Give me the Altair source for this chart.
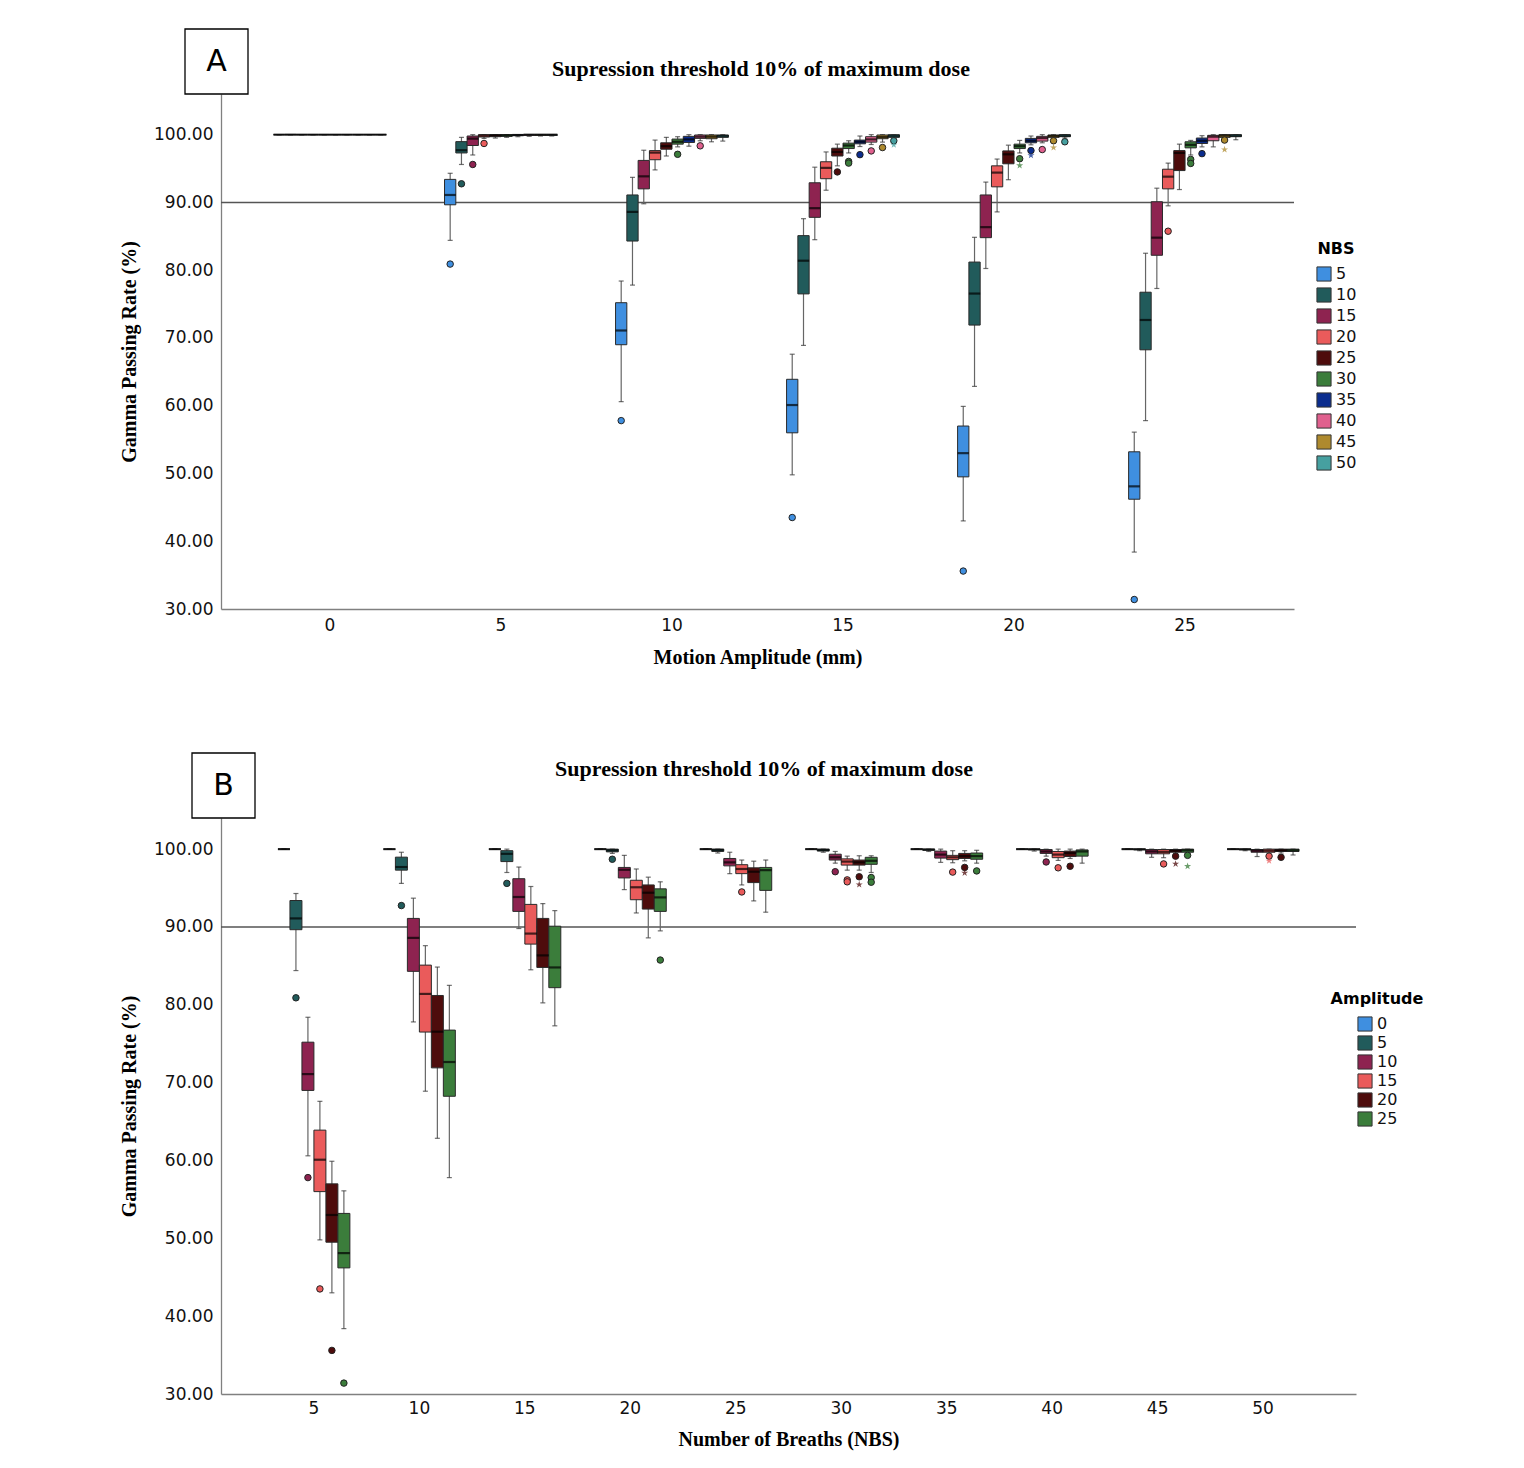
import altair as alt
import pandas as pd

amplitudes = [0, 5, 10, 15, 20, 25]
nbs_values = [5, 10, 15, 20, 25, 30, 35, 40, 45, 50]

# rows = amplitude (0..25), columns = NBS (5..50)
whisker_low = [
    [100.0, 100.0, 100.0, 100.0, 100.0, 100.0, 100.0, 100.0, 100.0, 100.0],
    [84.4, 95.6, 97.0, 99.45, 99.5, 99.6, 99.7, 99.75, 99.8, 99.8],
    [60.6, 77.8, 89.8, 94.8, 96.85, 98.2, 98.3, 99.1, 98.95, 99.05],
    [49.8, 68.9, 84.5, 91.8, 95.4, 97.3, 98.25, 98.55, 98.9, 99.3],
    [43.0, 62.85, 80.25, 88.6, 93.35, 97.3, 98.5, 98.8, 99.4, 99.5],
    [38.4, 57.8, 77.3, 89.5, 91.9, 97.0, 98.2, 98.2, 99.3, 99.25],
]
quartile_1 = [
    [100.0, 100.0, 100.0, 100.0, 100.0, 100.0, 100.0, 100.0, 100.0, 100.0],
    [89.65, 97.3, 98.4, 99.65, 99.7, 99.75, 99.85, 99.9, 99.9, 99.9],
    [69.0, 84.3, 92.0, 96.3, 97.85, 98.6, 98.85, 99.45, 99.4, 99.6],
    [56.0, 76.5, 87.8, 93.5, 96.85, 97.95, 98.65, 98.9, 99.4, 99.6],
    [49.5, 71.9, 84.8, 92.3, 95.7, 97.95, 98.8, 99.05, 99.6, 99.7],
    [46.2, 68.25, 82.2, 92.0, 94.7, 98.05, 98.7, 99.1, 99.6, 99.7],
]
medians = [
    [100.0, 100.0, 100.0, 100.0, 100.0, 100.0, 100.0, 100.0, 100.0, 100.0],
    [91.1, 97.7, 99.4, 99.85, 99.9, 99.9, 99.95, 100.0, 100.0, 100.0],
    [71.1, 88.6, 93.85, 97.35, 98.3, 98.95, 99.3, 99.7, 99.7, 99.8],
    [60.1, 81.4, 89.15, 95.1, 97.45, 98.4, 98.95, 99.3, 99.65, 99.8],
    [53.0, 76.55, 86.35, 94.4, 97.1, 98.3, 99.1, 99.5, 99.8, 99.85],
    [48.1, 72.65, 84.8, 93.8, 97.3, 98.5, 99.1, 99.7, 99.85, 99.85],
]
quartile_3 = [
    [100.0, 100.0, 100.0, 100.0, 100.0, 100.0, 100.0, 100.0, 100.0, 100.0],
    [93.4, 98.97, 99.8, 100.0, 100.0, 100.0, 100.0, 100.0, 100.0, 100.0],
    [75.2, 91.1, 96.2, 97.65, 98.8, 99.35, 99.75, 99.95, 99.95, 99.95],
    [63.9, 85.1, 92.9, 96.0, 98.0, 98.75, 99.2, 99.7, 99.95, 100.0],
    [57.0, 81.2, 91.1, 95.4, 97.6, 98.6, 99.45, 99.75, 99.95, 100.0],
    [53.2, 76.75, 90.1, 94.9, 97.65, 98.95, 99.5, 99.9, 100.0, 100.0],
]
whisker_high = [
    [100.0, 100.0, 100.0, 100.0, 100.0, 100.0, 100.0, 100.0, 100.0, 100.0],
    [94.3, 99.6, 100.0, 100.0, 100.0, 100.0, 100.0, 100.0, 100.0, 100.0],
    [78.4, 93.7, 97.7, 99.2, 99.6, 99.7, 100.0, 100.0, 100.0, 100.0],
    [67.6, 87.6, 95.2, 97.45, 98.6, 99.1, 99.8, 100.0, 100.0, 100.0],
    [59.9, 84.85, 93.0, 96.4, 98.45, 99.15, 99.8, 100.0, 100.0, 100.0],
    [56.1, 82.5, 92.1, 95.8, 98.6, 99.15, 99.85, 100.0, 100.0, 100.0],
]

# outliers: circle = mild outlier, star = extreme
outlier_amp = [5, 5, 5, 5, 10, 10, 10, 15, 15, 15, 15, 15, 15, 15, 15, 20, 20, 20, 20, 20, 20,
               25, 25, 25, 25, 25, 25, 15, 20, 20, 20, 25]
outlier_nbs = [5, 10, 15, 20, 5, 30, 40, 5, 25, 30, 30, 35, 40, 45, 50, 5, 30, 35, 40, 45, 50,
               5, 20, 30, 30, 35, 45, 50, 30, 35, 45, 45]
outlier_value = [80.9, 92.75, 95.6, 98.7, 57.8, 97.1, 98.35, 43.5, 94.5, 96.05, 95.8, 97.05, 97.6, 98.1, 99.1,
                 35.6, 96.45, 97.65, 97.8, 99.1, 98.95, 31.4, 85.75, 96.35, 95.75, 97.2, 99.2,
                 98.5, 95.45, 96.95, 98.1, 97.8]
outlier_kind = ["circle"] * 27 + ["star"] * 5

palette = ["#3f8fe0", "#215b5b", "#8e2350", "#ea5b5b", "#4e0c0c",
           "#3b7d3b", "#0b2d8e", "#e0608e", "#ae8a2e", "#46a0a0"]

title_text = "Supression threshold 10% of maximum dose"
y_title = "Gamma Passing Rate (%)"
y_ticks = [30, 40, 50, 60, 70, 80, 90, 100]

STAR = ("M0,-1L0.2245,-0.309L0.951,-0.309L0.3633,0.118L0.5878,0.809L0,0.382"
        "L-0.5878,0.809L-0.3633,0.118L-0.951,-0.309L-0.2245,-0.309Z")

rows = []
for i, a in enumerate(amplitudes):
    for j, n in enumerate(nbs_values):
        rows.append(dict(amp=a, nbs=n, lo=whisker_low[i][j], q1=quartile_1[i][j],
                         med=medians[i][j], q3=quartile_3[i][j], hi=whisker_high[i][j]))
stats = pd.DataFrame(rows)
outl = pd.DataFrame(dict(amp=outlier_amp, nbs=outlier_nbs, value=outlier_value, kind=outlier_kind))

SERIF = "Liberation Serif"
SANS = "DejaVu Sans"


def panel(xfield, xdom, xtitle, offfield, offdom, legend_title, colors,
          width, height, ytop, pin, pout, box_w, legx, legy, row_pad, letter, box_x,
          title_x, title_y, lab_pad, title_pad):
    yscale = alt.Scale(domain=[30, ytop], nice=False, zero=False)
    yaxis = alt.Axis(values=y_ticks, format=".2f", title=y_title, labelPadding=8, titlePadding=14)
    xenc = alt.X(f"{xfield}:O", scale=alt.Scale(domain=xdom, paddingInner=pin, paddingOuter=pout),
                 axis=alt.Axis(title=xtitle, labelAngle=0, labelPadding=lab_pad, titlePadding=title_pad))
    offenc = alt.XOffset(f"{offfield}:O", scale=alt.Scale(domain=offdom, paddingInner=0, paddingOuter=0))
    cscale = alt.Scale(domain=offdom, range=colors)

    base = alt.Chart(stats).encode(x=xenc, xOffset=offenc)

    ref = alt.Chart(pd.DataFrame({"ref": [90]})).mark_rule(color="#555555", strokeWidth=1.5).encode(
        y=alt.Y("ref:Q", scale=yscale, axis=yaxis))
    whisk = base.mark_rule(color="#666666", strokeWidth=1.2).encode(
        y=alt.Y("lo:Q", scale=yscale, axis=yaxis), y2="hi:Q")
    cap_lo = base.mark_tick(color="#333333", size=5, thickness=1.2).encode(y=alt.Y("lo:Q", scale=yscale))
    cap_hi = base.mark_tick(color="#333333", size=5, thickness=1.2).encode(y=alt.Y("hi:Q", scale=yscale))
    box = base.mark_bar(stroke="#2a2a2a", strokeWidth=1, opacity=1).encode(
        y=alt.Y("q1:Q", scale=yscale), y2="q3:Q",
        color=alt.Color(f"{offfield}:O", scale=cscale,
                        legend=alt.Legend(title=legend_title, orient="none", legendX=legx, legendY=legy,
                                          symbolType="square", symbolSize=200, symbolStrokeColor="#333333",
                                          symbolStrokeWidth=1, titleAnchor="middle", rowPadding=row_pad)))
    med = base.mark_tick(color="black", size=box_w, thickness=2.2).encode(y=alt.Y("med:Q", scale=yscale))

    ob = alt.Chart(outl).encode(x=xenc, xOffset=offenc, y=alt.Y("value:Q", scale=yscale),
                                fill=alt.Fill(f"{offfield}:O", scale=cscale, legend=None))
    circ = ob.transform_filter(alt.datum.kind == "circle").mark_point(
        shape="circle", filled=True, size=42, stroke="#222222", strokeWidth=1, opacity=1)
    star = ob.transform_filter(alt.datum.kind == "star").mark_point(
        shape=STAR, filled=True, size=55, opacity=0.75, strokeWidth=0)

    lab = pd.DataFrame({"letter": [letter], "title": [title_text]})
    lbox = alt.Chart(lab).mark_rect(fill="white", stroke="black", strokeWidth=1.3).encode(
        x=alt.value(box_x), x2=alt.value(box_x + 63), y=alt.value(-65), y2=alt.value(0))
    ltxt = alt.Chart(lab).mark_text(font=SANS, fontSize=30, align="center", baseline="middle").encode(
        x=alt.value(box_x + 31.5), y=alt.value(-32), text="letter:N")
    ttxt = alt.Chart(lab).mark_text(font=SERIF, fontSize=22, fontWeight="bold", align="center",
                                    baseline="middle", color="black").encode(
        x=alt.value(title_x), y=alt.value(title_y), text="title:N")

    return alt.layer(ref, whisk, cap_lo, cap_hi, box, med, circ, star, lbox, ltxt, ttxt).properties(
        width=width, height=height)


chart_a = panel("amp", amplitudes, "Motion Amplitude (mm)", "nbs", nbs_values, "NBS", palette,
                1073, 515, 106, 0.34, 0.307, 11.3, 1095, 147, 1, "A", -36, 540, -25, 8, 14)
chart_b = panel("nbs", nbs_values, "Number of Breaths (NBS)", "amp", amplitudes, "Amplitude", palette[:6],
                1135, 576, 104, 0.318, 0.54, 12, 1110, 173, -1, "B", -29, 543, -49, 6, 13)

chart = alt.vconcat(chart_a, chart_b, spacing=85).resolve_scale(
    color="independent", fill="independent", x="independent", y="independent", xOffset="independent"
).resolve_legend(color="independent").properties(
    padding={"left": 111, "top": 20, "right": 10, "bottom": 10}
).configure_view(strokeWidth=0).configure_axis(
    domainColor="#808080", domainWidth=1.3, ticks=False, grid=False,
    labelFont=SANS, labelFontSize=17, labelColor="#111111",
    titleFont=SERIF, titleFontSize=20, titleFontWeight="bold", titleColor="#000000"
).configure_legend(
    labelFont=SANS, labelFontSize=16, labelColor="#111111", titleFont=SANS, titleFontSize=16,
    titleFontWeight="bold", titleColor="#000000", labelOffset=4, titlePadding=9
)

chart.save("out.html", embed_options={"renderer": "svg", "actions": False})
